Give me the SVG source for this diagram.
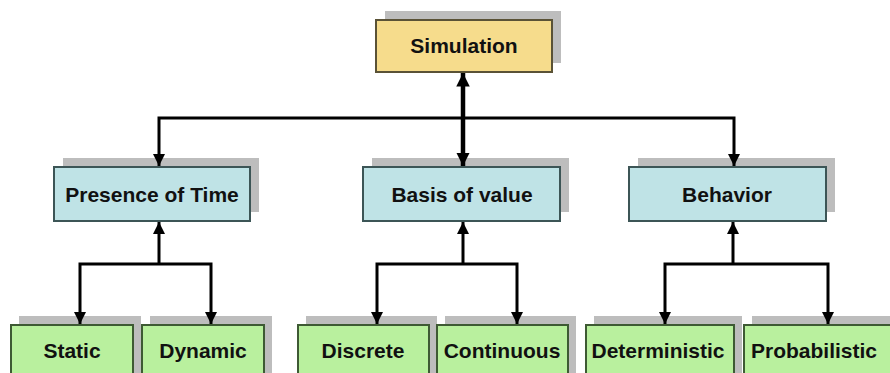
<svg xmlns="http://www.w3.org/2000/svg" width="890" height="373" viewBox="0 0 890 373">
<defs>
<style>
.sh{fill:#bdbdbd}
.box{stroke-width:2}
.y{fill:#f6dc8c;stroke:#5a5236}
.b{fill:#bfe3e6;stroke:#3c5556}
.g{fill:#b9f09e;stroke:#3e5a34}
.t{font-family:"Liberation Sans",Arial,sans-serif;font-weight:bold;font-size:21px;fill:#111;text-anchor:middle}
.c{fill:none;stroke:#000;stroke-width:3}
.ct{fill:none;stroke:#000;stroke-width:4.5}
</style>
<marker id="ah" viewBox="0 0 10 10" refX="10" refY="5" markerWidth="4" markerHeight="4" markerUnits="strokeWidth" orient="auto-start-reverse">
<path d="M0,0 L10,5 L0,10 Z" fill="#000"/>
</marker>
<marker id="ah2" viewBox="0 0 10 10" refX="10" refY="5" markerWidth="3" markerHeight="3" markerUnits="strokeWidth" orient="auto-start-reverse">
<path d="M0,0 L10,5 L0,10 Z" fill="#000"/>
</marker>
</defs>
<rect width="890" height="373" fill="#fff"/>

<g id="simulation">
<rect class="sh" x="385" y="11" width="176" height="52"/>
<rect class="box y" x="376" y="20" width="176" height="52"/>
<text class="t" x="464" y="53">Simulation</text>
</g>

<g id="presence">
<rect class="sh" x="63" y="158" width="196" height="54"/>
<rect class="box b" x="54" y="167" width="196" height="54"/>
<text class="t" x="152" y="202">Presence of Time</text>
</g>
<g id="basis">
<rect class="sh" x="372" y="158" width="197" height="54"/>
<rect class="box b" x="363" y="167" width="197" height="54"/>
<text class="t" x="462" y="202">Basis of value</text>
</g>
<g id="behavior">
<rect class="sh" x="638" y="158" width="197" height="54"/>
<rect class="box b" x="629" y="167" width="197" height="54"/>
<text class="t" x="727" y="202">Behavior</text>
</g>

<g id="static">
<rect class="sh" x="19" y="316" width="122" height="60"/>
<rect class="box g" x="11" y="325" width="122" height="60"/>
<text class="t" x="72" y="358">Static</text>
</g>
<g id="dynamic">
<rect class="sh" x="150" y="316" width="122" height="60"/>
<rect class="box g" x="142" y="325" width="122" height="60"/>
<text class="t" x="203" y="358">Dynamic</text>
</g>
<g id="discrete">
<rect class="sh" x="306" y="316" width="131" height="60"/>
<rect class="box g" x="298" y="325" width="131" height="60"/>
<text class="t" x="363" y="358">Discrete</text>
</g>
<g id="continuous">
<rect class="sh" x="445" y="316" width="131" height="60"/>
<rect class="box g" x="437" y="325" width="131" height="60"/>
<text class="t" x="502" y="358">Continuous</text>
</g>
<g id="deterministic">
<rect class="sh" x="594" y="316" width="148" height="60"/>
<rect class="box g" x="586" y="325" width="148" height="60"/>
<text class="t" x="658" y="358">Deterministic</text>
</g>
<g id="probabilistic">
<rect class="sh" x="752" y="316" width="148" height="60"/>
<rect class="box g" x="744" y="325" width="148" height="60"/>
<text class="t" x="814" y="358">Probabilistic</text>
</g>

<g id="connectors">
<line class="ct" x1="463" y1="166" x2="463" y2="73" marker-start="url(#ah2)" marker-end="url(#ah2)"/>
<path class="c" d="M159,166 V118 H734 V166" marker-start="url(#ah)" marker-end="url(#ah)"/>
<line class="c" x1="159" y1="264" x2="159" y2="222" marker-end="url(#ah)"/>
<path class="c" d="M80,324 V264 H211 V324" marker-start="url(#ah)" marker-end="url(#ah)"/>
<line class="c" x1="463" y1="264" x2="463" y2="222" marker-end="url(#ah)"/>
<path class="c" d="M377,324 V264 H517 V324" marker-start="url(#ah)" marker-end="url(#ah)"/>
<line class="c" x1="733" y1="264" x2="733" y2="222" marker-end="url(#ah)"/>
<path class="c" d="M665,324 V264 H828 V324" marker-start="url(#ah)" marker-end="url(#ah)"/>
</g>
</svg>
